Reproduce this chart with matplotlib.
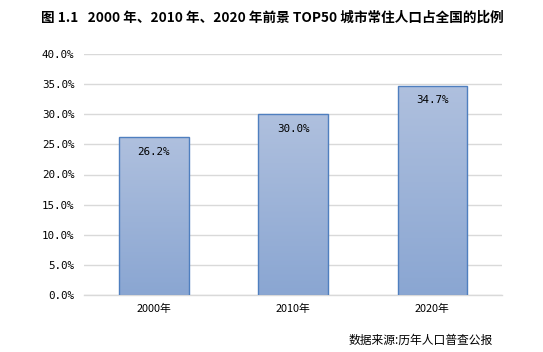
import matplotlib
matplotlib.use("Agg")
import matplotlib.pyplot as plt
import numpy as np
from matplotlib.colors import LinearSegmentedColormap

plt.rcParams['font.family'] = ['Noto Sans CJK SC', 'DejaVu Sans']

categories = ["2000年", "2010年", "2020年"]
values = [26.2, 30.0, 34.7]
yticks = [0, 5, 10, 15, 20, 25, 30, 35, 40]
title = "图 1.1   2000 年、2010 年、2020 年前景 TOP50 城市常住人口占全国的比例"
source = "数据来源:历年人口普查公报"

fig = plt.figure(figsize=(5.43, 3.52), dpi=100)
ax = fig.add_axes([84/543, 1-295/352, 418/543, (295-54)/352])

x = np.arange(len(categories))
bars = ax.bar(x, values, width=0.5, facecolor='none', edgecolor='#4f7fbf', linewidth=1.0, zorder=3)

cmap = LinearSegmentedColormap.from_list("g", ["#8aa6d2", "#afc0de"])
grad = np.linspace(0, 1, 256).reshape(-1, 1)
for b in bars:
    x0, y0 = b.get_x(), b.get_y()
    w, h = b.get_width(), b.get_height()
    im = ax.imshow(grad, cmap=cmap, extent=[x0, x0 + w, y0, y0 + h], origin='lower',
                   aspect='auto', zorder=2)
    im.set_clip_path(b)
    ax.text(x0 + w/2, y0 + h - 2.4, f"{h:.1f}%", ha='center', va='center',
            fontsize=7.8, family=['DejaVu Sans Mono'], zorder=4)

ax.set_xlim(-0.5, len(categories) - 0.5)
ax.set_ylim(0, 40)
ax.set_yticks(yticks)
ax.set_yticklabels([f"{t:.1f}%" for t in yticks], fontsize=7.8, family=['DejaVu Sans Mono'])
ax.set_xticks(x)
ax.set_xticklabels(categories, fontsize=7.8)
ax.tick_params(axis='y', length=0, pad=7)
ax.tick_params(axis='x', length=0, pad=6)
ax.grid(axis='y', color='#d9d9d9', linewidth=1.0, zorder=0)
ax.set_axisbelow(True)
for s in ['top', 'right', 'left']:
    ax.spines[s].set_visible(False)
ax.spines['bottom'].set_color('#d9d9d9')
ax.spines['bottom'].set_linewidth(1.0)

fig.text(272/543, 1-18/352, title, ha='center', va='center', fontsize=9.8, fontweight='bold')
fig.text(493/543, 1-340/352, source, ha='right', va='center', fontsize=8.5)

fig.savefig("out.png", dpi=100)
